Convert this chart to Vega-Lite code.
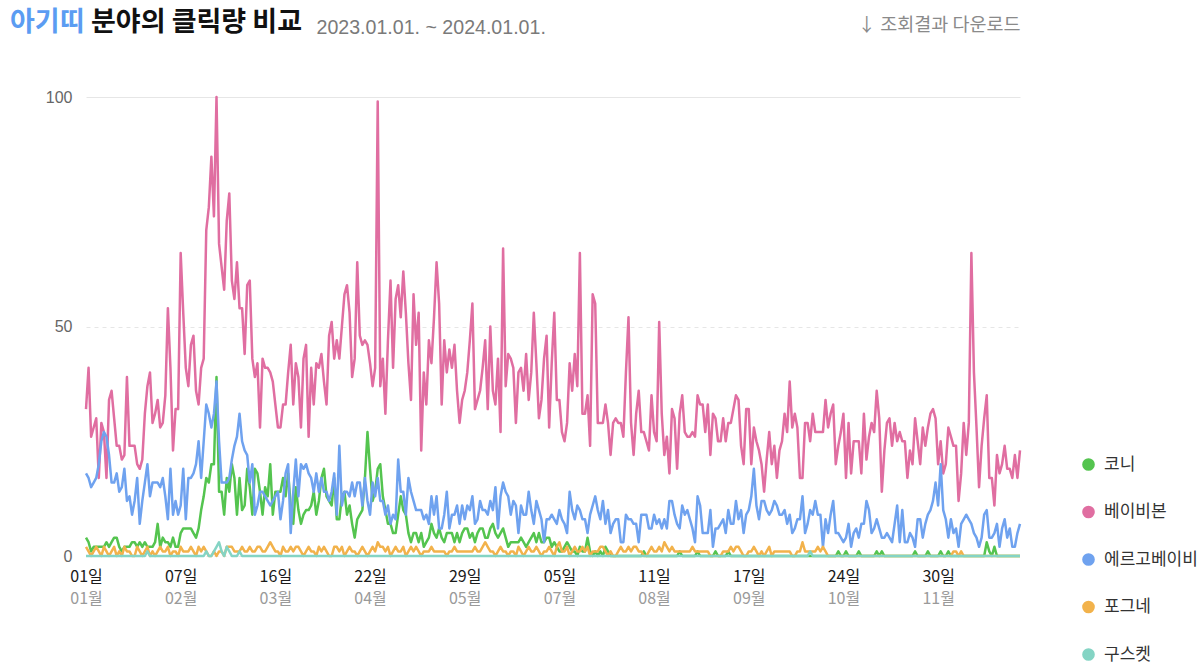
{
"$schema": "https://vega.github.io/schema/vega-lite/v6.json",
"width": 934, "height": 459,
"autosize": "none",
"padding": {"left": 86, "top": 97, "right": 184, "bottom": 107},
"background": "white",
"config": {"view": {"stroke": null}, "font": "Noto Sans CJK KR"},
"title": {"text": "아기띠", "subtitle": "\u200b\u3000\u3000\u3000분야의 클릭량 비교", "anchor": "start", "frame": "group", "dx": -76, "dy": 62, "offset": 40, "font": "Noto Sans CJK KR", "fontSize": 27, "fontWeight": "bold", "color": "#5b9cf2", "subtitleFont": "Noto Sans CJK KR", "subtitleFontSize": 27, "subtitleFontWeight": "bold", "subtitleColor": "#111111", "subtitlePadding": -27},
"datasets": {"clicks": [
{"t":"2023-01-01","kn":4,"bb":32,"eb":18,"pg":2,"gs":0},
{"t":"2023-01-02","kn":3,"bb":41,"eb":17,"pg":1,"gs":0},
{"t":"2023-01-03","kn":1,"bb":26,"eb":15,"pg":0,"gs":0},
{"t":"2023-01-04","kn":2,"bb":28,"eb":16,"pg":1,"gs":0},
{"t":"2023-01-05","kn":2,"bb":30,"eb":17,"pg":2,"gs":0},
{"t":"2023-01-06","kn":2,"bb":17,"eb":20,"pg":1,"gs":0},
{"t":"2023-01-07","kn":2,"bb":29,"eb":25,"pg":0,"gs":0},
{"t":"2023-01-08","kn":2,"bb":27,"eb":27,"pg":2,"gs":0},
{"t":"2023-01-09","kn":3,"bb":17,"eb":26,"pg":1,"gs":0},
{"t":"2023-01-10","kn":2,"bb":34,"eb":22,"pg":0,"gs":0},
{"t":"2023-01-11","kn":3,"bb":36,"eb":16,"pg":1,"gs":0},
{"t":"2023-01-12","kn":4,"bb":30,"eb":16,"pg":2,"gs":0},
{"t":"2023-01-13","kn":4,"bb":24,"eb":18,"pg":0,"gs":0},
{"t":"2023-01-14","kn":2,"bb":24,"eb":14,"pg":1,"gs":0},
{"t":"2023-01-15","kn":1,"bb":21,"eb":15,"pg":0,"gs":0},
{"t":"2023-01-16","kn":2,"bb":22,"eb":19,"pg":2,"gs":0},
{"t":"2023-01-17","kn":2,"bb":39,"eb":12,"pg":1,"gs":0},
{"t":"2023-01-18","kn":2,"bb":24,"eb":13,"pg":1,"gs":0},
{"t":"2023-01-19","kn":3,"bb":24,"eb":9,"pg":0,"gs":0},
{"t":"2023-01-20","kn":3,"bb":24,"eb":12,"pg":0,"gs":0},
{"t":"2023-01-21","kn":2,"bb":20,"eb":17,"pg":2,"gs":0},
{"t":"2023-01-22","kn":3,"bb":19,"eb":7,"pg":1,"gs":0},
{"t":"2023-01-23","kn":2,"bb":21,"eb":12,"pg":0,"gs":0},
{"t":"2023-01-24","kn":3,"bb":31,"eb":16,"pg":1,"gs":0},
{"t":"2023-01-25","kn":2,"bb":37,"eb":20,"pg":2,"gs":1},
{"t":"2023-01-26","kn":2,"bb":40,"eb":13,"pg":0,"gs":0},
{"t":"2023-01-27","kn":2,"bb":29,"eb":16,"pg":1,"gs":0},
{"t":"2023-01-28","kn":3,"bb":31,"eb":16,"pg":0,"gs":0},
{"t":"2023-01-29","kn":7,"bb":34,"eb":16,"pg":1,"gs":0},
{"t":"2023-01-30","kn":2,"bb":28,"eb":15,"pg":2,"gs":0},
{"t":"2023-01-31","kn":4,"bb":29,"eb":17,"pg":1,"gs":0},
{"t":"2023-02-01","kn":3,"bb":35,"eb":13,"pg":1,"gs":0},
{"t":"2023-02-02","kn":3,"bb":54,"eb":8,"pg":2,"gs":0},
{"t":"2023-02-03","kn":2,"bb":41,"eb":19,"pg":0,"gs":0},
{"t":"2023-02-04","kn":4,"bb":23,"eb":9,"pg":1,"gs":0},
{"t":"2023-02-05","kn":2,"bb":32,"eb":12,"pg":1,"gs":0},
{"t":"2023-02-06","kn":2,"bb":32,"eb":9,"pg":0,"gs":0},
{"t":"2023-02-07","kn":5,"bb":66,"eb":11,"pg":2,"gs":0},
{"t":"2023-02-08","kn":6,"bb":53,"eb":19,"pg":1,"gs":0},
{"t":"2023-02-09","kn":6,"bb":41,"eb":8,"pg":1,"gs":0},
{"t":"2023-02-10","kn":6,"bb":37,"eb":17,"pg":1,"gs":0},
{"t":"2023-02-11","kn":6,"bb":46,"eb":17,"pg":2,"gs":0},
{"t":"2023-02-12","kn":5,"bb":48,"eb":18,"pg":1,"gs":0},
{"t":"2023-02-13","kn":4,"bb":36,"eb":20,"pg":0,"gs":0},
{"t":"2023-02-14","kn":6,"bb":33,"eb":25,"pg":2,"gs":0},
{"t":"2023-02-15","kn":10,"bb":41,"eb":17,"pg":1,"gs":0},
{"t":"2023-02-16","kn":13,"bb":43,"eb":25,"pg":2,"gs":0},
{"t":"2023-02-17","kn":17,"bb":71,"eb":33,"pg":1,"gs":1},
{"t":"2023-02-18","kn":16,"bb":76,"eb":31,"pg":0,"gs":0},
{"t":"2023-02-19","kn":20,"bb":87,"eb":28,"pg":0,"gs":0},
{"t":"2023-02-20","kn":20,"bb":74,"eb":31,"pg":1,"gs":1},
{"t":"2023-02-21","kn":39,"bb":100,"eb":38,"pg":0,"gs":2},
{"t":"2023-02-22","kn":14,"bb":68,"eb":25,"pg":1,"gs":3},
{"t":"2023-02-23","kn":14,"bb":63,"eb":16,"pg":1,"gs":1},
{"t":"2023-02-24","kn":9,"bb":58,"eb":16,"pg":0,"gs":0},
{"t":"2023-02-25","kn":17,"bb":73,"eb":16,"pg":2,"gs":2},
{"t":"2023-02-26","kn":14,"bb":79,"eb":17,"pg":2,"gs":1},
{"t":"2023-02-27","kn":20,"bb":60,"eb":21,"pg":2,"gs":0},
{"t":"2023-02-28","kn":17,"bb":56,"eb":24,"pg":1,"gs":0},
{"t":"2023-03-01","kn":9,"bb":64,"eb":26,"pg":1,"gs":0},
{"t":"2023-03-02","kn":17,"bb":54,"eb":31,"pg":1,"gs":1},
{"t":"2023-03-03","kn":10,"bb":54,"eb":25,"pg":2,"gs":0},
{"t":"2023-03-04","kn":11,"bb":44,"eb":23,"pg":1,"gs":0},
{"t":"2023-03-05","kn":19,"bb":59,"eb":22,"pg":1,"gs":0},
{"t":"2023-03-06","kn":15,"bb":60,"eb":16,"pg":2,"gs":0},
{"t":"2023-03-07","kn":9,"bb":43,"eb":20,"pg":1,"gs":0},
{"t":"2023-03-08","kn":19,"bb":39,"eb":9,"pg":1,"gs":0},
{"t":"2023-03-09","kn":18,"bb":42,"eb":11,"pg":2,"gs":0},
{"t":"2023-03-10","kn":14,"bb":28,"eb":14,"pg":2,"gs":0},
{"t":"2023-03-11","kn":9,"bb":43,"eb":14,"pg":1,"gs":0},
{"t":"2023-03-12","kn":15,"bb":41,"eb":13,"pg":1,"gs":0},
{"t":"2023-03-13","kn":13,"bb":41,"eb":12,"pg":2,"gs":0},
{"t":"2023-03-14","kn":20,"bb":40,"eb":11,"pg":3,"gs":0},
{"t":"2023-03-15","kn":9,"bb":38,"eb":12,"pg":2,"gs":0},
{"t":"2023-03-16","kn":14,"bb":33,"eb":13,"pg":1,"gs":0},
{"t":"2023-03-17","kn":14,"bb":28,"eb":14,"pg":1,"gs":0},
{"t":"2023-03-18","kn":14,"bb":28,"eb":8,"pg":0,"gs":0},
{"t":"2023-03-19","kn":17,"bb":33,"eb":12,"pg":2,"gs":0},
{"t":"2023-03-20","kn":13,"bb":33,"eb":18,"pg":1,"gs":0},
{"t":"2023-03-21","kn":18,"bb":40,"eb":20,"pg":1,"gs":0},
{"t":"2023-03-22","kn":11,"bb":46,"eb":5,"pg":2,"gs":0},
{"t":"2023-03-23","kn":7,"bb":33,"eb":14,"pg":1,"gs":0},
{"t":"2023-03-24","kn":15,"bb":42,"eb":21,"pg":2,"gs":0},
{"t":"2023-03-25","kn":10,"bb":39,"eb":13,"pg":2,"gs":0},
{"t":"2023-03-26","kn":7,"bb":28,"eb":20,"pg":1,"gs":0},
{"t":"2023-03-27","kn":9,"bb":43,"eb":19,"pg":0,"gs":0},
{"t":"2023-03-28","kn":10,"bb":46,"eb":20,"pg":1,"gs":0},
{"t":"2023-03-29","kn":10,"bb":26,"eb":18,"pg":2,"gs":0},
{"t":"2023-03-30","kn":11,"bb":41,"eb":17,"pg":1,"gs":0},
{"t":"2023-03-31","kn":14,"bb":33,"eb":14,"pg":1,"gs":0},
{"t":"2023-04-01","kn":9,"bb":42,"eb":18,"pg":0,"gs":0},
{"t":"2023-04-02","kn":12,"bb":41,"eb":14,"pg":2,"gs":0},
{"t":"2023-04-03","kn":17,"bb":44,"eb":17,"pg":1,"gs":0},
{"t":"2023-04-04","kn":19,"bb":38,"eb":14,"pg":2,"gs":0},
{"t":"2023-04-05","kn":13,"bb":33,"eb":14,"pg":1,"gs":0},
{"t":"2023-04-06","kn":12,"bb":48,"eb":12,"pg":0,"gs":0},
{"t":"2023-04-07","kn":11,"bb":51,"eb":14,"pg":0,"gs":0},
{"t":"2023-04-08","kn":17,"bb":43,"eb":18,"pg":2,"gs":0},
{"t":"2023-04-09","kn":8,"bb":47,"eb":9,"pg":2,"gs":0},
{"t":"2023-04-10","kn":8,"bb":43,"eb":24,"pg":1,"gs":0},
{"t":"2023-04-11","kn":13,"bb":50,"eb":11,"pg":2,"gs":0},
{"t":"2023-04-12","kn":14,"bb":57,"eb":14,"pg":0,"gs":0},
{"t":"2023-04-13","kn":9,"bb":59,"eb":14,"pg":1,"gs":0},
{"t":"2023-04-14","kn":11,"bb":53,"eb":13,"pg":2,"gs":0},
{"t":"2023-04-15","kn":7,"bb":39,"eb":16,"pg":1,"gs":0},
{"t":"2023-04-16","kn":4,"bb":43,"eb":13,"pg":1,"gs":0},
{"t":"2023-04-17","kn":8,"bb":64,"eb":16,"pg":0,"gs":0},
{"t":"2023-04-18","kn":9,"bb":48,"eb":16,"pg":1,"gs":0},
{"t":"2023-04-19","kn":10,"bb":46,"eb":11,"pg":2,"gs":0},
{"t":"2023-04-20","kn":17,"bb":47,"eb":17,"pg":1,"gs":0},
{"t":"2023-04-21","kn":27,"bb":46,"eb":12,"pg":0,"gs":0},
{"t":"2023-04-22","kn":19,"bb":42,"eb":9,"pg":1,"gs":0},
{"t":"2023-04-23","kn":12,"bb":37,"eb":16,"pg":2,"gs":0},
{"t":"2023-04-24","kn":14,"bb":41,"eb":13,"pg":1,"gs":0},
{"t":"2023-04-25","kn":19,"bb":99,"eb":17,"pg":3,"gs":0},
{"t":"2023-04-26","kn":20,"bb":37,"eb":12,"pg":2,"gs":0},
{"t":"2023-04-27","kn":13,"bb":43,"eb":12,"pg":2,"gs":0},
{"t":"2023-04-28","kn":10,"bb":31,"eb":9,"pg":1,"gs":0},
{"t":"2023-04-29","kn":7,"bb":47,"eb":11,"pg":2,"gs":0},
{"t":"2023-04-30","kn":7,"bb":60,"eb":7,"pg":0,"gs":0},
{"t":"2023-05-01","kn":5,"bb":41,"eb":9,"pg":1,"gs":0},
{"t":"2023-05-02","kn":5,"bb":56,"eb":8,"pg":2,"gs":0},
{"t":"2023-05-03","kn":9,"bb":59,"eb":21,"pg":1,"gs":0},
{"t":"2023-05-04","kn":13,"bb":52,"eb":14,"pg":1,"gs":0},
{"t":"2023-05-05","kn":10,"bb":62,"eb":14,"pg":2,"gs":0},
{"t":"2023-05-06","kn":9,"bb":53,"eb":9,"pg":0,"gs":0},
{"t":"2023-05-07","kn":5,"bb":42,"eb":17,"pg":1,"gs":0},
{"t":"2023-05-08","kn":3,"bb":34,"eb":14,"pg":2,"gs":0},
{"t":"2023-05-09","kn":5,"bb":57,"eb":12,"pg":1,"gs":0},
{"t":"2023-05-10","kn":5,"bb":46,"eb":10,"pg":2,"gs":0},
{"t":"2023-05-11","kn":3,"bb":53,"eb":10,"pg":1,"gs":0},
{"t":"2023-05-12","kn":5,"bb":23,"eb":10,"pg":0,"gs":0},
{"t":"2023-05-13","kn":2,"bb":40,"eb":8,"pg":1,"gs":0},
{"t":"2023-05-14","kn":3,"bb":33,"eb":9,"pg":1,"gs":0},
{"t":"2023-05-15","kn":4,"bb":47,"eb":7,"pg":1,"gs":0},
{"t":"2023-05-16","kn":7,"bb":42,"eb":13,"pg":2,"gs":0},
{"t":"2023-05-17","kn":5,"bb":52,"eb":9,"pg":1,"gs":0},
{"t":"2023-05-18","kn":4,"bb":64,"eb":13,"pg":1,"gs":0},
{"t":"2023-05-19","kn":6,"bb":55,"eb":6,"pg":1,"gs":0},
{"t":"2023-05-20","kn":4,"bb":33,"eb":6,"pg":1,"gs":0},
{"t":"2023-05-21","kn":3,"bb":47,"eb":9,"pg":1,"gs":0},
{"t":"2023-05-22","kn":5,"bb":40,"eb":14,"pg":0,"gs":0},
{"t":"2023-05-23","kn":5,"bb":45,"eb":6,"pg":1,"gs":0},
{"t":"2023-05-24","kn":5,"bb":41,"eb":9,"pg":1,"gs":0},
{"t":"2023-05-25","kn":3,"bb":46,"eb":9,"pg":2,"gs":0},
{"t":"2023-05-26","kn":5,"bb":36,"eb":11,"pg":1,"gs":0},
{"t":"2023-05-27","kn":3,"bb":29,"eb":7,"pg":1,"gs":0},
{"t":"2023-05-28","kn":5,"bb":34,"eb":11,"pg":1,"gs":0},
{"t":"2023-05-29","kn":6,"bb":36,"eb":8,"pg":1,"gs":0},
{"t":"2023-05-30","kn":6,"bb":40,"eb":11,"pg":1,"gs":0},
{"t":"2023-05-31","kn":4,"bb":47,"eb":10,"pg":1,"gs":0},
{"t":"2023-06-01","kn":5,"bb":55,"eb":13,"pg":1,"gs":0},
{"t":"2023-06-02","kn":3,"bb":32,"eb":7,"pg":2,"gs":0},
{"t":"2023-06-03","kn":5,"bb":34,"eb":8,"pg":1,"gs":0},
{"t":"2023-06-04","kn":6,"bb":36,"eb":12,"pg":1,"gs":0},
{"t":"2023-06-05","kn":6,"bb":41,"eb":10,"pg":2,"gs":0},
{"t":"2023-06-06","kn":4,"bb":47,"eb":10,"pg":3,"gs":0},
{"t":"2023-06-07","kn":4,"bb":32,"eb":9,"pg":2,"gs":0},
{"t":"2023-06-08","kn":6,"bb":50,"eb":12,"pg":1,"gs":0},
{"t":"2023-06-09","kn":7,"bb":36,"eb":10,"pg":1,"gs":0},
{"t":"2023-06-10","kn":5,"bb":33,"eb":15,"pg":0,"gs":0},
{"t":"2023-06-11","kn":4,"bb":43,"eb":6,"pg":1,"gs":0},
{"t":"2023-06-12","kn":5,"bb":27,"eb":13,"pg":2,"gs":0},
{"t":"2023-06-13","kn":6,"bb":67,"eb":16,"pg":1,"gs":0},
{"t":"2023-06-14","kn":4,"bb":37,"eb":14,"pg":1,"gs":0},
{"t":"2023-06-15","kn":2,"bb":44,"eb":13,"pg":0,"gs":0},
{"t":"2023-06-16","kn":3,"bb":43,"eb":9,"pg":1,"gs":0},
{"t":"2023-06-17","kn":3,"bb":41,"eb":12,"pg":1,"gs":0},
{"t":"2023-06-18","kn":3,"bb":29,"eb":11,"pg":0,"gs":0},
{"t":"2023-06-19","kn":3,"bb":40,"eb":5,"pg":2,"gs":0},
{"t":"2023-06-20","kn":4,"bb":41,"eb":11,"pg":1,"gs":0},
{"t":"2023-06-21","kn":3,"bb":36,"eb":9,"pg":0,"gs":0},
{"t":"2023-06-22","kn":2,"bb":44,"eb":9,"pg":1,"gs":0},
{"t":"2023-06-23","kn":3,"bb":34,"eb":14,"pg":2,"gs":0},
{"t":"2023-06-24","kn":4,"bb":40,"eb":10,"pg":1,"gs":0},
{"t":"2023-06-25","kn":5,"bb":53,"eb":7,"pg":1,"gs":0},
{"t":"2023-06-26","kn":3,"bb":42,"eb":12,"pg":2,"gs":0},
{"t":"2023-06-27","kn":5,"bb":30,"eb":10,"pg":1,"gs":0},
{"t":"2023-06-28","kn":3,"bb":34,"eb":8,"pg":0,"gs":0},
{"t":"2023-06-29","kn":3,"bb":43,"eb":3,"pg":1,"gs":0},
{"t":"2023-06-30","kn":4,"bb":48,"eb":8,"pg":1,"gs":0},
{"t":"2023-07-01","kn":4,"bb":28,"eb":8,"pg":2,"gs":0},
{"t":"2023-07-02","kn":2,"bb":42,"eb":9,"pg":1,"gs":0},
{"t":"2023-07-03","kn":3,"bb":53,"eb":8,"pg":0,"gs":0},
{"t":"2023-07-04","kn":2,"bb":34,"eb":7,"pg":2,"gs":0},
{"t":"2023-07-05","kn":1,"bb":34,"eb":10,"pg":3,"gs":0},
{"t":"2023-07-06","kn":1,"bb":27,"eb":8,"pg":1,"gs":0},
{"t":"2023-07-07","kn":2,"bb":25,"eb":7,"pg":1,"gs":0},
{"t":"2023-07-08","kn":3,"bb":29,"eb":5,"pg":2,"gs":0},
{"t":"2023-07-09","kn":2,"bb":42,"eb":14,"pg":0,"gs":0},
{"t":"2023-07-10","kn":1,"bb":36,"eb":10,"pg":1,"gs":0},
{"t":"2023-07-11","kn":1,"bb":44,"eb":8,"pg":2,"gs":0},
{"t":"2023-07-12","kn":0,"bb":37,"eb":11,"pg":1,"gs":0},
{"t":"2023-07-13","kn":2,"bb":66,"eb":10,"pg":1,"gs":0},
{"t":"2023-07-14","kn":1,"bb":31,"eb":8,"pg":2,"gs":0},
{"t":"2023-07-15","kn":1,"bb":31,"eb":8,"pg":1,"gs":0},
{"t":"2023-07-16","kn":4,"bb":35,"eb":5,"pg":2,"gs":0},
{"t":"2023-07-17","kn":1,"bb":24,"eb":9,"pg":0,"gs":0},
{"t":"2023-07-18","kn":0,"bb":57,"eb":11,"pg":1,"gs":0},
{"t":"2023-07-19","kn":1,"bb":55,"eb":13,"pg":1,"gs":0},
{"t":"2023-07-20","kn":0,"bb":29,"eb":10,"pg":1,"gs":0},
{"t":"2023-07-21","kn":1,"bb":29,"eb":8,"pg":2,"gs":0},
{"t":"2023-07-22","kn":0,"bb":29,"eb":12,"pg":2,"gs":0},
{"t":"2023-07-23","kn":2,"bb":33,"eb":7,"pg":1,"gs":0},
{"t":"2023-07-24","kn":1,"bb":29,"eb":10,"pg":0,"gs":0},
{"t":"2023-07-25","kn":0,"bb":22,"eb":5,"pg":1,"gs":0},
{"t":"2023-07-26","kn":0,"bb":29,"eb":7,"pg":0,"gs":0},
{"t":"2023-07-27","kn":0,"bb":30,"eb":8,"pg":0,"gs":0},
{"t":"2023-07-28","kn":0,"bb":29,"eb":8,"pg":1,"gs":0},
{"t":"2023-07-29","kn":0,"bb":29,"eb":3,"pg":2,"gs":0},
{"t":"2023-07-30","kn":0,"bb":26,"eb":3,"pg":1,"gs":0},
{"t":"2023-07-31","kn":0,"bb":40,"eb":9,"pg":1,"gs":0},
{"t":"2023-08-01","kn":0,"bb":52,"eb":8,"pg":2,"gs":0},
{"t":"2023-08-02","kn":0,"bb":29,"eb":8,"pg":1,"gs":0},
{"t":"2023-08-03","kn":0,"bb":22,"eb":7,"pg":2,"gs":0},
{"t":"2023-08-04","kn":0,"bb":31,"eb":7,"pg":2,"gs":0},
{"t":"2023-08-05","kn":0,"bb":36,"eb":3,"pg":1,"gs":0},
{"t":"2023-08-06","kn":0,"bb":27,"eb":9,"pg":1,"gs":0},
{"t":"2023-08-07","kn":1,"bb":27,"eb":9,"pg":0,"gs":0},
{"t":"2023-08-08","kn":0,"bb":25,"eb":9,"pg":0,"gs":0},
{"t":"2023-08-09","kn":0,"bb":23,"eb":6,"pg":1,"gs":0},
{"t":"2023-08-10","kn":0,"bb":35,"eb":6,"pg":2,"gs":0},
{"t":"2023-08-11","kn":0,"bb":27,"eb":9,"pg":1,"gs":0},
{"t":"2023-08-12","kn":0,"bb":25,"eb":7,"pg":1,"gs":0},
{"t":"2023-08-13","kn":0,"bb":51,"eb":8,"pg":2,"gs":0},
{"t":"2023-08-14","kn":0,"bb":31,"eb":6,"pg":1,"gs":0},
{"t":"2023-08-15","kn":0,"bb":22,"eb":8,"pg":3,"gs":0},
{"t":"2023-08-16","kn":0,"bb":26,"eb":6,"pg":2,"gs":0},
{"t":"2023-08-17","kn":0,"bb":18,"eb":12,"pg":1,"gs":0},
{"t":"2023-08-18","kn":0,"bb":32,"eb":12,"pg":2,"gs":0},
{"t":"2023-08-19","kn":0,"bb":30,"eb":9,"pg":1,"gs":0},
{"t":"2023-08-20","kn":0,"bb":19,"eb":7,"pg":1,"gs":0},
{"t":"2023-08-21","kn":1,"bb":31,"eb":6,"pg":1,"gs":0},
{"t":"2023-08-22","kn":0,"bb":35,"eb":11,"pg":1,"gs":0},
{"t":"2023-08-23","kn":0,"bb":27,"eb":9,"pg":1,"gs":0},
{"t":"2023-08-24","kn":0,"bb":26,"eb":10,"pg":1,"gs":0},
{"t":"2023-08-25","kn":0,"bb":26,"eb":8,"pg":1,"gs":0},
{"t":"2023-08-26","kn":0,"bb":27,"eb":6,"pg":2,"gs":0},
{"t":"2023-08-27","kn":0,"bb":26,"eb":3,"pg":1,"gs":0},
{"t":"2023-08-28","kn":1,"bb":35,"eb":13,"pg":1,"gs":0},
{"t":"2023-08-29","kn":0,"bb":33,"eb":11,"pg":1,"gs":0},
{"t":"2023-08-30","kn":0,"bb":33,"eb":5,"pg":1,"gs":0},
{"t":"2023-08-31","kn":0,"bb":27,"eb":5,"pg":1,"gs":0},
{"t":"2023-09-01","kn":0,"bb":33,"eb":5,"pg":1,"gs":0},
{"t":"2023-09-02","kn":0,"bb":22,"eb":10,"pg":0,"gs":0},
{"t":"2023-09-03","kn":0,"bb":31,"eb":2,"pg":0,"gs":0},
{"t":"2023-09-04","kn":1,"bb":30,"eb":6,"pg":0,"gs":0},
{"t":"2023-09-05","kn":0,"bb":25,"eb":6,"pg":0,"gs":0},
{"t":"2023-09-06","kn":0,"bb":25,"eb":7,"pg":0,"gs":0},
{"t":"2023-09-07","kn":0,"bb":30,"eb":8,"pg":1,"gs":0},
{"t":"2023-09-08","kn":0,"bb":25,"eb":5,"pg":1,"gs":0},
{"t":"2023-09-09","kn":1,"bb":29,"eb":10,"pg":1,"gs":0},
{"t":"2023-09-10","kn":0,"bb":29,"eb":7,"pg":2,"gs":0},
{"t":"2023-09-11","kn":0,"bb":32,"eb":7,"pg":1,"gs":0},
{"t":"2023-09-12","kn":0,"bb":35,"eb":12,"pg":2,"gs":0},
{"t":"2023-09-13","kn":0,"bb":34,"eb":8,"pg":2,"gs":0},
{"t":"2023-09-14","kn":0,"bb":24,"eb":10,"pg":1,"gs":0},
{"t":"2023-09-15","kn":0,"bb":20,"eb":5,"pg":0,"gs":0},
{"t":"2023-09-16","kn":0,"bb":32,"eb":9,"pg":0,"gs":0},
{"t":"2023-09-17","kn":0,"bb":32,"eb":10,"pg":1,"gs":0},
{"t":"2023-09-18","kn":0,"bb":20,"eb":13,"pg":1,"gs":0},
{"t":"2023-09-19","kn":0,"bb":28,"eb":19,"pg":2,"gs":0},
{"t":"2023-09-20","kn":0,"bb":25,"eb":11,"pg":1,"gs":0},
{"t":"2023-09-21","kn":0,"bb":23,"eb":8,"pg":0,"gs":0},
{"t":"2023-09-22","kn":0,"bb":20,"eb":12,"pg":1,"gs":0},
{"t":"2023-09-23","kn":0,"bb":14,"eb":12,"pg":0,"gs":0},
{"t":"2023-09-24","kn":0,"bb":21,"eb":10,"pg":1,"gs":0},
{"t":"2023-09-25","kn":0,"bb":27,"eb":9,"pg":2,"gs":0},
{"t":"2023-09-26","kn":0,"bb":20,"eb":10,"pg":0,"gs":0},
{"t":"2023-09-27","kn":0,"bb":24,"eb":12,"pg":1,"gs":0},
{"t":"2023-09-28","kn":0,"bb":17,"eb":11,"pg":1,"gs":0},
{"t":"2023-09-29","kn":0,"bb":23,"eb":9,"pg":1,"gs":0},
{"t":"2023-09-30","kn":0,"bb":25,"eb":9,"pg":1,"gs":0},
{"t":"2023-10-01","kn":0,"bb":31,"eb":10,"pg":1,"gs":0},
{"t":"2023-10-02","kn":0,"bb":27,"eb":7,"pg":1,"gs":0},
{"t":"2023-10-03","kn":0,"bb":38,"eb":9,"pg":1,"gs":0},
{"t":"2023-10-04","kn":0,"bb":28,"eb":5,"pg":0,"gs":0},
{"t":"2023-10-05","kn":0,"bb":31,"eb":6,"pg":0,"gs":0},
{"t":"2023-10-06","kn":0,"bb":28,"eb":8,"pg":1,"gs":0},
{"t":"2023-10-07","kn":0,"bb":17,"eb":8,"pg":1,"gs":0},
{"t":"2023-10-08","kn":0,"bb":17,"eb":13,"pg":3,"gs":0},
{"t":"2023-10-09","kn":0,"bb":29,"eb":5,"pg":1,"gs":0},
{"t":"2023-10-10","kn":0,"bb":29,"eb":7,"pg":1,"gs":0},
{"t":"2023-10-11","kn":0,"bb":25,"eb":10,"pg":1,"gs":1},
{"t":"2023-10-12","kn":0,"bb":31,"eb":9,"pg":1,"gs":0},
{"t":"2023-10-13","kn":0,"bb":27,"eb":12,"pg":1,"gs":0},
{"t":"2023-10-14","kn":0,"bb":27,"eb":9,"pg":2,"gs":0},
{"t":"2023-10-15","kn":0,"bb":27,"eb":9,"pg":1,"gs":0},
{"t":"2023-10-16","kn":0,"bb":27,"eb":2,"pg":2,"gs":0},
{"t":"2023-10-17","kn":0,"bb":34,"eb":8,"pg":1,"gs":0},
{"t":"2023-10-18","kn":0,"bb":28,"eb":5,"pg":0,"gs":0},
{"t":"2023-10-19","kn":0,"bb":31,"eb":9,"pg":0,"gs":0},
{"t":"2023-10-20","kn":0,"bb":33,"eb":12,"pg":0,"gs":0},
{"t":"2023-10-21","kn":0,"bb":20,"eb":5,"pg":0,"gs":0},
{"t":"2023-10-22","kn":1,"bb":24,"eb":5,"pg":0,"gs":0},
{"t":"2023-10-23","kn":0,"bb":27,"eb":4,"pg":0,"gs":0},
{"t":"2023-10-24","kn":0,"bb":31,"eb":3,"pg":0,"gs":0},
{"t":"2023-10-25","kn":1,"bb":17,"eb":4,"pg":0,"gs":0},
{"t":"2023-10-26","kn":0,"bb":29,"eb":7,"pg":0,"gs":0},
{"t":"2023-10-27","kn":0,"bb":18,"eb":2,"pg":0,"gs":0},
{"t":"2023-10-28","kn":0,"bb":25,"eb":5,"pg":0,"gs":0},
{"t":"2023-10-29","kn":0,"bb":25,"eb":6,"pg":0,"gs":0},
{"t":"2023-10-30","kn":1,"bb":25,"eb":4,"pg":0,"gs":0},
{"t":"2023-10-31","kn":0,"bb":18,"eb":7,"pg":0,"gs":0},
{"t":"2023-11-01","kn":0,"bb":31,"eb":7,"pg":0,"gs":0},
{"t":"2023-11-02","kn":0,"bb":21,"eb":12,"pg":0,"gs":0},
{"t":"2023-11-03","kn":0,"bb":26,"eb":10,"pg":0,"gs":0},
{"t":"2023-11-04","kn":0,"bb":29,"eb":5,"pg":0,"gs":0},
{"t":"2023-11-05","kn":0,"bb":27,"eb":6,"pg":0,"gs":0},
{"t":"2023-11-06","kn":1,"bb":36,"eb":8,"pg":0,"gs":0},
{"t":"2023-11-07","kn":0,"bb":30,"eb":6,"pg":0,"gs":0},
{"t":"2023-11-08","kn":1,"bb":14,"eb":4,"pg":0,"gs":0},
{"t":"2023-11-09","kn":0,"bb":23,"eb":4,"pg":0,"gs":0},
{"t":"2023-11-10","kn":0,"bb":29,"eb":5,"pg":0,"gs":0},
{"t":"2023-11-11","kn":0,"bb":30,"eb":4,"pg":0,"gs":0},
{"t":"2023-11-12","kn":0,"bb":24,"eb":3,"pg":0,"gs":0},
{"t":"2023-11-13","kn":0,"bb":29,"eb":7,"pg":0,"gs":0},
{"t":"2023-11-14","kn":0,"bb":25,"eb":11,"pg":0,"gs":0},
{"t":"2023-11-15","kn":0,"bb":27,"eb":3,"pg":0,"gs":0},
{"t":"2023-11-16","kn":0,"bb":25,"eb":10,"pg":0,"gs":0},
{"t":"2023-11-17","kn":0,"bb":25,"eb":3,"pg":0,"gs":0},
{"t":"2023-11-18","kn":0,"bb":17,"eb":3,"pg":0,"gs":0},
{"t":"2023-11-19","kn":0,"bb":23,"eb":5,"pg":0,"gs":0},
{"t":"2023-11-20","kn":0,"bb":20,"eb":4,"pg":0,"gs":0},
{"t":"2023-11-21","kn":1,"bb":30,"eb":2,"pg":0,"gs":0},
{"t":"2023-11-22","kn":0,"bb":25,"eb":8,"pg":0,"gs":0},
{"t":"2023-11-23","kn":0,"bb":20,"eb":8,"pg":0,"gs":0},
{"t":"2023-11-24","kn":0,"bb":28,"eb":4,"pg":0,"gs":0},
{"t":"2023-11-25","kn":0,"bb":24,"eb":7,"pg":0,"gs":0},
{"t":"2023-11-26","kn":1,"bb":28,"eb":9,"pg":0,"gs":0},
{"t":"2023-11-27","kn":0,"bb":31,"eb":10,"pg":0,"gs":0},
{"t":"2023-11-28","kn":0,"bb":32,"eb":12,"pg":0,"gs":0},
{"t":"2023-11-29","kn":0,"bb":30,"eb":16,"pg":0,"gs":0},
{"t":"2023-11-30","kn":0,"bb":20,"eb":11,"pg":0,"gs":0},
{"t":"2023-12-01","kn":1,"bb":25,"eb":20,"pg":0,"gs":0},
{"t":"2023-12-02","kn":0,"bb":18,"eb":10,"pg":0,"gs":0},
{"t":"2023-12-03","kn":0,"bb":20,"eb":8,"pg":0,"gs":0},
{"t":"2023-12-04","kn":1,"bb":28,"eb":4,"pg":0,"gs":0},
{"t":"2023-12-05","kn":0,"bb":26,"eb":8,"pg":0,"gs":0},
{"t":"2023-12-06","kn":0,"bb":24,"eb":5,"pg":1,"gs":0},
{"t":"2023-12-07","kn":0,"bb":24,"eb":6,"pg":1,"gs":0},
{"t":"2023-12-08","kn":0,"bb":12,"eb":2,"pg":0,"gs":0},
{"t":"2023-12-09","kn":0,"bb":18,"eb":7,"pg":1,"gs":0},
{"t":"2023-12-10","kn":0,"bb":29,"eb":8,"pg":0,"gs":0},
{"t":"2023-12-11","kn":0,"bb":22,"eb":9,"pg":0,"gs":0},
{"t":"2023-12-12","kn":0,"bb":29,"eb":8,"pg":0,"gs":0},
{"t":"2023-12-13","kn":0,"bb":66,"eb":7,"pg":0,"gs":0},
{"t":"2023-12-14","kn":0,"bb":40,"eb":5,"pg":0,"gs":0},
{"t":"2023-12-15","kn":0,"bb":28,"eb":4,"pg":0,"gs":0},
{"t":"2023-12-16","kn":0,"bb":15,"eb":2,"pg":0,"gs":0},
{"t":"2023-12-17","kn":0,"bb":24,"eb":4,"pg":0,"gs":0},
{"t":"2023-12-18","kn":0,"bb":30,"eb":9,"pg":0,"gs":0},
{"t":"2023-12-19","kn":3,"bb":35,"eb":10,"pg":0,"gs":0},
{"t":"2023-12-20","kn":1,"bb":17,"eb":4,"pg":0,"gs":0},
{"t":"2023-12-21","kn":0,"bb":17,"eb":4,"pg":0,"gs":0},
{"t":"2023-12-22","kn":2,"bb":11,"eb":5,"pg":0,"gs":0},
{"t":"2023-12-23","kn":0,"bb":22,"eb":7,"pg":0,"gs":0},
{"t":"2023-12-24","kn":0,"bb":18,"eb":2,"pg":0,"gs":0},
{"t":"2023-12-25","kn":0,"bb":20,"eb":6,"pg":0,"gs":0},
{"t":"2023-12-26","kn":0,"bb":24,"eb":8,"pg":0,"gs":0},
{"t":"2023-12-27","kn":0,"bb":19,"eb":4,"pg":0,"gs":0},
{"t":"2023-12-28","kn":0,"bb":19,"eb":6,"pg":0,"gs":0},
{"t":"2023-12-29","kn":0,"bb":17,"eb":2,"pg":0,"gs":0},
{"t":"2023-12-30","kn":0,"bb":22,"eb":2,"pg":0,"gs":0},
{"t":"2023-12-31","kn":0,"bb":17,"eb":5,"pg":0,"gs":0},
{"t":"2024-01-01","kn":0,"bb":23,"eb":7,"pg":0,"gs":0}
]},
"layer": [
{
"data": {"name": "clicks"},
"transform": [{"fold": ["kn", "bb", "eb", "pg", "gs"], "as": ["series", "clicks"]}],
"mark": {"type": "line", "strokeWidth": 2.5, "strokeJoin": "round"},
"encoding": {
"x": {"field": "t", "type": "temporal",
"scale": {"type": "utc", "domain": [1672531200000, 1704067200000]},
"axis": {"values": [1672531200000, 1675728000000, 1678924800000, 1682121600000, 1685318400000, 1688515200000, 1691712000000, 1694908800000, 1698105600000, 1701302400000],
"labelExpr": "utcFormat(datum.value, '%d') + '일'",
"labelFont": "Noto Sans CJK KR", "labelFontSize": 16, "labelColor": "#1a1a1a", "labelPadding": 12,
"labelFlush": false, "labelOverlap": false, "ticks": false, "domain": false, "grid": false,
"title": "↓ 조회결과 다운로드", "titleX": 934, "titleY": -526, "titleAlign": "right", "titleBaseline": "alphabetic", "titleAnchor": null,
"titleFont": "Noto Sans CJK KR", "titleFontSize": 18.5, "titleFontWeight": "normal", "titleColor": "#8a8a8a"}},
"y": {"field": "clicks", "type": "quantitative",
"scale": {"domain": [0, 100], "nice": false},
"axis": {"values": [0, 50, 100], "labelFont": "Liberation Sans", "labelFontSize": 16, "labelColor": "#666666", "labelPadding": 14,
"ticks": false, "domain": false, "gridColor": "#e6e6e6", "gridWidth": 1,
"gridDash": {"condition": {"test": "datum.value === 100", "value": []}, "value": [4, 4]},
"title": "2023.01.01. ~ 2024.01.01.", "titleAngle": 0, "titleX": 230, "titleY": -64, "titleAlign": "left", "titleBaseline": "alphabetic", "titleAnchor": null,
"titleFont": "Liberation Sans", "titleFontSize": 19.6, "titleFontWeight": "normal", "titleColor": "#7a7a7a"}},
"color": {"field": "series", "type": "nominal",
"scale": {"domain": ["kn", "bb", "eb", "pg", "gs"], "range": ["#54c44f", "#e06ea1", "#6fa2ef", "#f2b24b", "#84d4c4"]},
"legend": {"orient": "none", "legendX": 994, "legendY": 359, "title": null, "padding": 0,
"symbolType": "circle", "symbolSize": 160, "symbolStrokeWidth": 0, "labelOffset": 7,
"labelFont": "Noto Sans CJK KR", "labelFontSize": 17, "labelColor": "#333333", "rowPadding": 29.5,
"labelExpr": "datum.label == 'kn' ? '코니' : datum.label == 'bb' ? '베이비본' : datum.label == 'eb' ? '에르고베이비' : datum.label == 'pg' ? '포그네' : '구스켓'",
"encode": {"symbols": {"update": {"fill": {"scale": "color", "field": "value"}, "fillOpacity": {"value": 1}, "strokeWidth": {"value": 0}}}}}}
}
},
{
"data": {"values": [{"t": "2023-01-01"}, {"t": "2024-01-01"}]},
"mark": {"type": "point", "opacity": 0},
"encoding": {
"x": {"field": "t", "type": "temporal",
"axis": {"values": [1672531200000, 1675728000000, 1678924800000, 1682121600000, 1685318400000, 1688515200000, 1691712000000, 1694908800000, 1698105600000, 1701302400000],
"orient": "bottom",
"labelExpr": "utcFormat(datum.value, '%m') + '월'",
"labelFont": "Noto Sans CJK KR", "labelFontSize": 16, "labelColor": "#9a9a9a", "labelPadding": 34,
"labelFlush": false, "labelOverlap": false, "ticks": false, "domain": false, "grid": false, "title": null}}
}
}
],
"resolve": {"axis": {"x": "independent"}}
}
